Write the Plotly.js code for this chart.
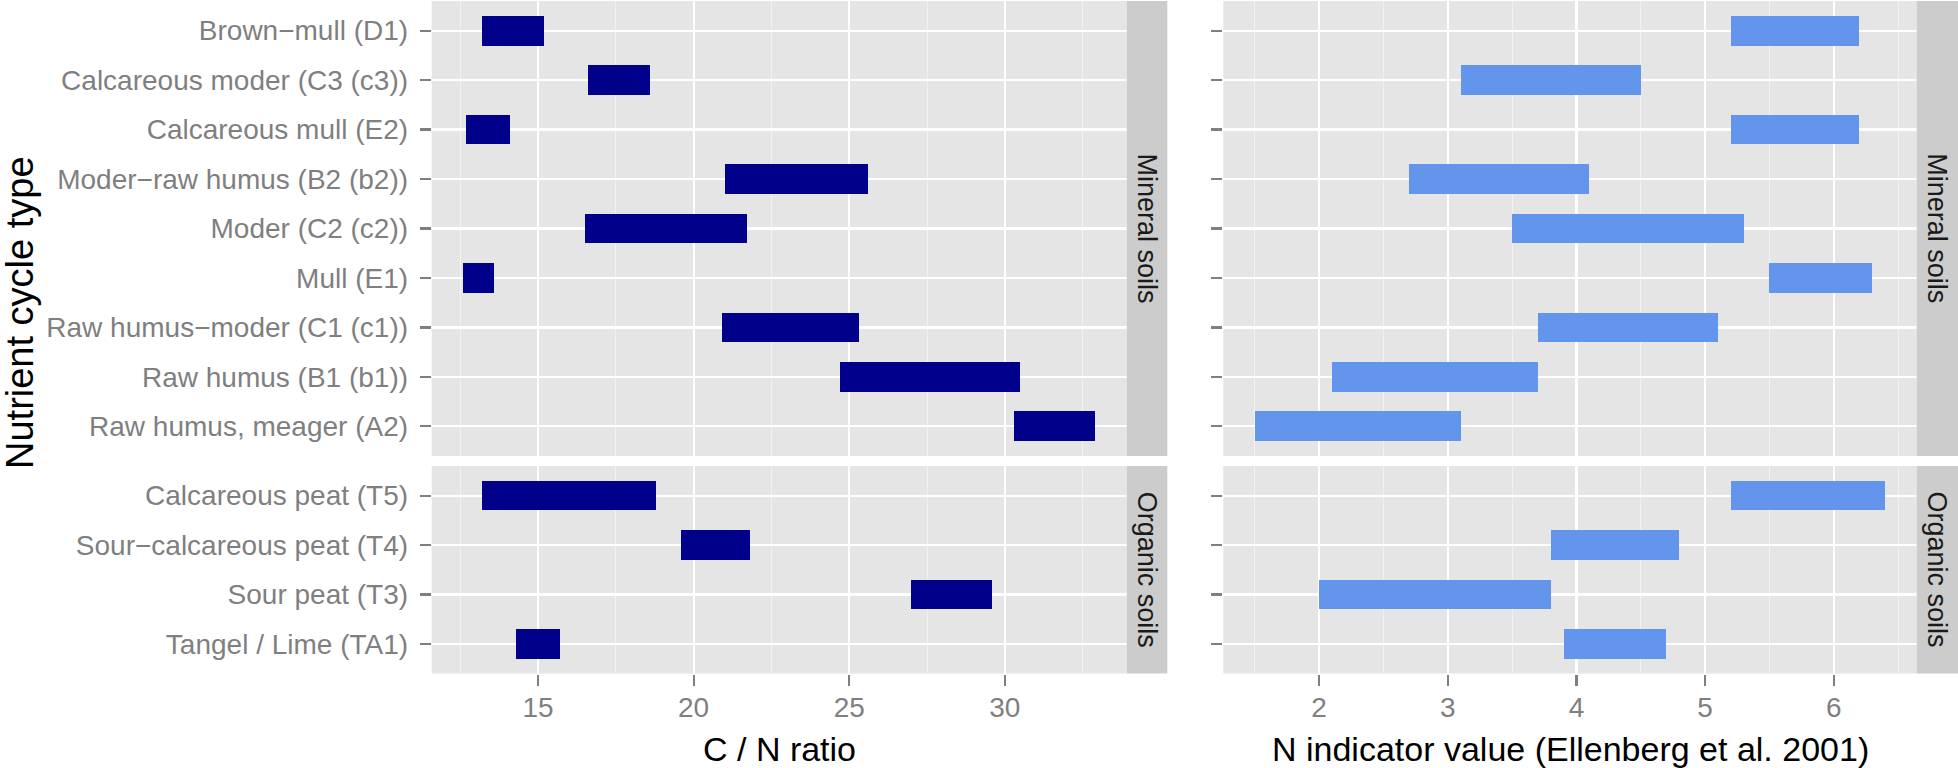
<!DOCTYPE html>
<html>
<head>
<meta charset="utf-8">
<script src="https://cdn.plot.ly/plotly-3.0.1.min.js"></script>
<style>
  body { margin: 0; background: #ffffff; }
  #chart { width: 1958px; height: 768px; }
</style>
</head>
<body>
<div id="chart"></div>
<script>
// Categories (top to bottom in each facet)
const mineralTypes = ["Brown−mull (D1)", "Calcareous moder (C3 (c3))", "Calcareous mull (E2)",
    "Moder−raw humus (B2 (b2))", "Moder (C2 (c2))", "Mull (E1)",
    "Raw humus−moder (C1 (c1))", "Raw humus (B1 (b1))", "Raw humus, meager (A2)"];
const organicTypes = ["Calcareous peat (T5)", "Sour−calcareous peat (T4)", "Sour peat (T3)", "Tangel / Lime (TA1)"];

// C / N ratio ranges
const cnMineralLo = [13.2, 16.6, 12.7, 21.0, 16.5, 12.6, 20.9, 24.7, 30.3];
const cnMineralHi = [15.2, 18.6, 14.1, 25.6, 21.7, 13.6, 25.3, 30.5, 32.9];
const cnOrganicLo = [13.2, 19.6, 27.0, 14.3];
const cnOrganicHi = [18.8, 21.8, 29.6, 15.7];

// N indicator value ranges (Ellenberg et al. 2001)
const nMineralLo = [5.2, 3.1, 5.2, 2.7, 3.5, 5.5, 3.7, 2.1, 1.5];
const nMineralHi = [6.2, 4.5, 6.2, 4.1, 5.3, 6.3, 5.1, 3.7, 3.1];
const nOrganicLo = [5.2, 3.8, 2.0, 3.9];
const nOrganicHi = [6.4, 4.8, 3.8, 4.7];

const facetLabels = ["Mineral soils", "Organic soils"];
const xTitles = ["C / N ratio", "N indicator value (Ellenberg et al. 2001)"];

const W = 1958, H = 768;
const FONT = "Liberation Sans, Arial, Helvetica, sans-serif";
const GREY = "#7F7F7F";

// panel positions in pixels
const leftX = [431.7, 1126.7], rightX = [1223.3, 1916.7];
const topY = [1, 456], botY = [466, 673.5];
const labelLineY = 688;   // where the tick-label axes sit

function px(x) { return x / W; }
function py(y) { return 1 - y / H; }

// ggplot-like 5% expansion of a continuous range
function expand(arrs) {
    let all = [].concat(...arrs);
    let lo = Math.min(...all), hi = Math.max(...all);
    let pad = (hi - lo) * 0.05;
    return [lo - pad, hi + pad];
}

function diff(hi, lo) { return hi.map((v, i) => +(v - lo[i]).toFixed(3)); }

function barTrace(cats, lo, hi, color, xa, ya, opacity) {
    return {
        type: 'bar', orientation: 'h',
        y: cats, base: lo, x: diff(hi, lo),
        width: 0.6, opacity: opacity,
        marker: { color: color, line: { width: 0 } },
        xaxis: xa, yaxis: ya,
        showlegend: false, hoverinfo: 'none'
    };
}

const dark = '#00008B', light = '#6495ED';
let traces = [
    barTrace(mineralTypes, cnMineralLo, cnMineralHi, dark, 'x', 'y', 1),
    barTrace(mineralTypes, nMineralLo, nMineralHi, light, 'x2', 'y2', 1),
    barTrace(organicTypes, cnOrganicLo, cnOrganicHi, dark, 'x3', 'y3', 1),
    barTrace(organicTypes, nOrganicLo, nOrganicHi, light, 'x4', 'y4', 1),
    // transparent copies so the label-only axes get drawn
    barTrace(organicTypes, cnOrganicLo, cnOrganicHi, dark, 'x5', 'y3', 0),
    barTrace(organicTypes, nOrganicLo, nOrganicHi, light, 'x6', 'y4', 0)
];

const cnRange = expand([cnMineralLo, cnMineralHi, cnOrganicLo, cnOrganicHi]);
const nRange = expand([nMineralLo, nMineralHi, nOrganicLo, nOrganicHi]);

function xAxis(domain, range, dtick, anchor, bottom) {
    return {
        domain: domain, range: range, anchor: anchor,
        tick0: 0, dtick: dtick,
        showgrid: true, gridcolor: '#FFFFFF', gridwidth: 2.2,
        minor: { tick0: 0, dtick: dtick / 2, showgrid: true, gridcolor: '#F2F2F2', gridwidth: 1, ticks: '' },
        zeroline: false, showline: false,
        showticklabels: false,
        ticks: bottom ? 'outside' : '',
        ticklen: 11, tickwidth: 2.2, tickcolor: GREY,
        fixedrange: true
    };
}

// label-only axis laid over a bottom axis, a little lower
function labelAxis(over, range, dtick) {
    return {
        overlaying: over, anchor: 'free', position: py(labelLineY),
        range: range, tick0: 0, dtick: dtick,
        showgrid: false, zeroline: false, showline: false,
        ticks: '', showticklabels: true,
        tickfont: { family: FONT, size: 28, color: GREY },
        fixedrange: true
    };
}

function yAxis(domain, cats, anchor, labels) {
    return {
        domain: domain, anchor: anchor,
        type: 'category', categoryarray: cats, categoryorder: 'array',
        range: [cats.length - 0.4, -0.6],
        showgrid: true, gridcolor: '#FFFFFF', gridwidth: 2.2,
        zeroline: false, showline: false,
        showticklabels: labels,
        ticks: 'outside', ticklen: 11, tickwidth: 2.2, tickcolor: GREY,
        ticklabelstandoff: 6,
        tickfont: { family: FONT, size: 28, color: GREY },
        fixedrange: true
    };
}

const colL = [px(leftX[0]), px(leftX[1])], colR = [px(rightX[0]), px(rightX[1])];
const rowT = [py(topY[1]), py(topY[0])], rowB = [py(botY[1]), py(botY[0])];

// facet strips on the right of each panel row
let shapes = [], annotations = [];
[[leftX[1], leftX[1] + 40.6], [rightX[1], W]].forEach(function (sx) {
    [topY, botY].forEach(function (sy, k) {
        shapes.push({
            type: 'rect', xref: 'paper', yref: 'paper', layer: 'above',
            x0: px(sx[0]), x1: px(sx[1]), y0: py(sy[1]), y1: py(sy[0]),
            fillcolor: '#CCCCCC', line: { width: 0 }
        });
        annotations.push({
            xref: 'paper', yref: 'paper', showarrow: false,
            xanchor: 'center', yanchor: 'middle',
            x: px((sx[0] + sx[1]) / 2), y: py((sy[0] + sy[1]) / 2),
            text: facetLabels[k], textangle: 90,
            font: { family: FONT, size: 27, color: '#1A1A1A' }
        });
    });
});

// x titles, centred under each column
[leftX, rightX].forEach(function (cx, i) {
    annotations.push({
        xref: 'paper', yref: 'paper', showarrow: false,
        xanchor: 'center', yanchor: 'middle',
        x: px((cx[0] + cx[1]) / 2), y: py(749),
        text: xTitles[i],
        font: { family: FONT, size: 34, color: '#000000' }
    });
});

// shared y title across both facet rows
annotations.push({
    xref: 'paper', yref: 'paper', showarrow: false,
    xanchor: 'center', yanchor: 'middle',
    x: px(20), y: py(313),
    text: 'Nutrient cycle type', textangle: -90,
    font: { family: FONT, size: 38, color: '#000000' }
});

let layout = {
    width: W, height: H,
    margin: { l: 0, r: 0, t: 0, b: 0 },
    paper_bgcolor: '#FFFFFF',
    plot_bgcolor: '#E5E5E5',
    bargap: 0,
    barmode: 'overlay',
    showlegend: false,
    xaxis: xAxis(colL, cnRange, 5, 'y', false),
    xaxis2: xAxis(colR, nRange, 1, 'y2', false),
    xaxis3: xAxis(colL, cnRange, 5, 'y3', true),
    xaxis4: xAxis(colR, nRange, 1, 'y4', true),
    xaxis5: labelAxis('x3', cnRange, 5),
    xaxis6: labelAxis('x4', nRange, 1),
    yaxis: yAxis(rowT, mineralTypes, 'x', true),
    yaxis2: yAxis(rowT, mineralTypes, 'x2', false),
    yaxis3: yAxis(rowB, organicTypes, 'x3', true),
    yaxis4: yAxis(rowB, organicTypes, 'x4', false),
    shapes: shapes,
    annotations: annotations
};

let config = { displayModeBar: false, staticPlot: true };

Plotly.newPlot('chart', traces, layout, config);
</script>
</body>
</html>
